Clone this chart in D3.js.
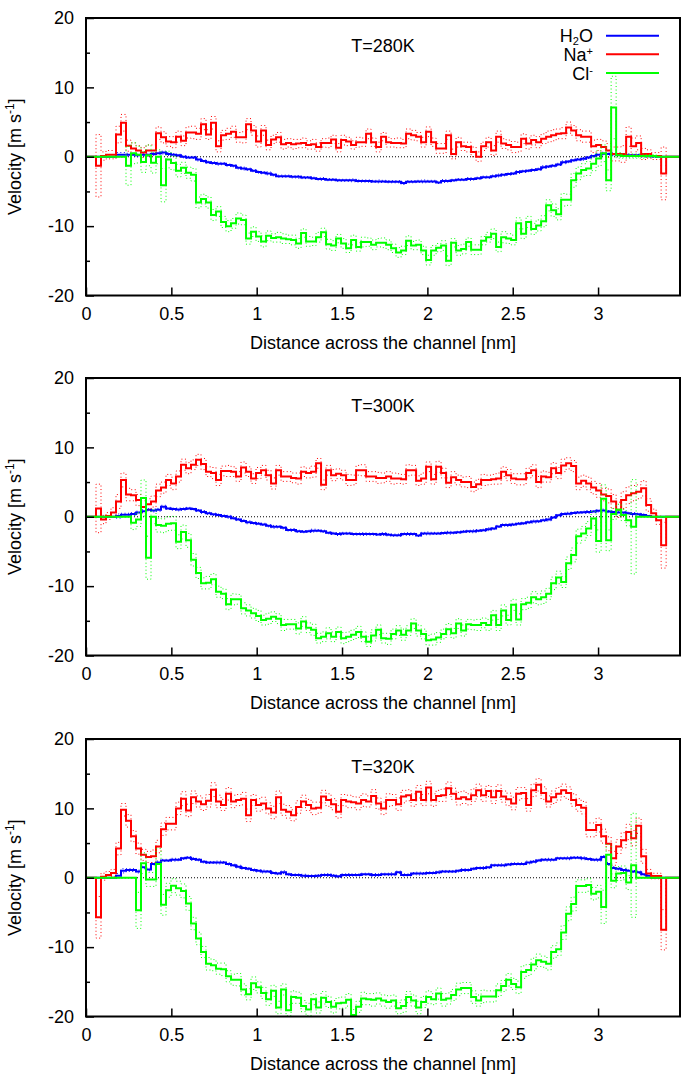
<!DOCTYPE html>
<html>
<head>
<meta charset="utf-8">
<script src="https://cdn.jsdelivr.net/npm/d3@7"></script>
<style>
  body { margin: 0; background: #fff; }
  text { font-family: "Liberation Sans", Arial, sans-serif; }
</style>
</head>
<body>
<svg id="chart" width="681" height="1074"></svg>
<script>
// bin width of the velocity profiles [nm]
const binWidth = 0.0293;
const xTicks = [0, 0.5, 1, 1.5, 2, 2.5, 3];
const yTicks = [-20, -10, 0, 10, 20];
const yMinorTicks = [-15, -5, 5, 15];
const titles = ['T=280K', 'T=300K', 'T=320K'];
const xLabel = 'Distance across the channel [nm]';

// ---- T = 280 K ----
const h2o280 = [
  0, 0, 0, 0, 0, 0, 0.3, 0.3, 0.3, 0.3,
  0.2, 0.3, 0.3, 0.4, 0.5, 0.6, 0.4, 0.3, 0.2, 0.0,
  -0.1, -0.1, -0.4, -0.6, -0.8, -0.9, -1.0, -1.0, -1.2, -1.3,
  -1.6, -1.7, -1.8, -2.0, -2.2, -2.3, -2.4, -2.6, -2.8, -2.8,
  -2.8, -2.9, -2.9, -3.0, -3.0, -3.1, -3.2, -3.2, -3.3, -3.3,
  -3.4, -3.4, -3.4, -3.4, -3.5, -3.5, -3.5, -3.55, -3.55, -3.55,
  -3.6, -3.6, -3.6, -3.8, -3.6, -3.6, -3.55, -3.55, -3.55, -3.55,
  -3.7, -3.5, -3.5, -3.4, -3.3, -3.3, -3.2, -3.2, -3.1, -2.95,
  -2.95, -2.8, -2.7, -2.6, -2.5, -2.4, -2.2, -2.1, -2.0, -1.9,
  -1.8, -1.5, -1.4, -1.3, -1.1, -0.8, -0.7, -0.5, -0.4, -0.3,
  -0.1, 0.1, 0.3, 0.45, 0.4, 0.35, 0.3, 0.2, 0.2, 0.2,
  0.2, 0.1, 0.1, 0.05, 0, 0, 0, 0, 0];
const h2o280Err = [
  0, 0, 0, 0, 0, 0, 0.3, 0.3, 0.2, 0.2,
  0.2, 0.2, 0.2, 0.2, 0.2, 0.2, 0.2, 0.15, 0.15, 0.15,
  0.15, 0.15, 0.2, 0.15, 0.15, 0.15, 0.2, 0.15, 0.15, 0.15,
  0.15, 0.2, 0.15, 0.15, 0.15, 0.15, 0.2, 0.15, 0.15, 0.15,
  0.15, 0.15, 0.2, 0.15, 0.15, 0.15, 0.15, 0.2, 0.15, 0.15,
  0.15, 0.15, 0.15, 0.2, 0.15, 0.15, 0.15, 0.15, 0.2, 0.15,
  0.15, 0.15, 0.15, 0.2, 0.15, 0.15, 0.15, 0.2, 0.15, 0.15,
  0.15, 0.2, 0.15, 0.15, 0.15, 0.15, 0.2, 0.15, 0.15, 0.15,
  0.15, 0.15, 0.2, 0.15, 0.15, 0.15, 0.2, 0.15, 0.15, 0.15,
  0.15, 0.2, 0.15, 0.15, 0.15, 0.2, 0.15, 0.15, 0.15, 0.2,
  0.15, 0.15, 0.2, 0.2, 0.15, 0.2, 0.15, 0.15, 0.2, 0.15,
  0.15, 0.15, 0.15, 0.1, 0, 0, 0, 0, 0];
const na280 = [
  0, 0, -1.3, 0.1, 0.3, 0.3, 3.2, 4.9, 1.6, 1.2,
  0.9, 0.6, 0.9, 0.9, 3.4, 2.8, 2.2, 2.1, 2.9, 2.3,
  3.5, 3.5, 3.3, 4.7, 3.2, 4.9, 1.5, 3.1, 3.3, 3.6,
  2.8, 2.8, 4.7, 3.8, 2.2, 3.8, 1.7, 2.5, 2.8, 1.8,
  2.0, 1.8, 1.9, 2.0, 1.7, 1.8, 1.4, 2.0, 2.0, 2.5,
  1.3, 2.4, 2.2, 1.7, 2.1, 2.1, 3.3, 2.1, 1.4, 2.9,
  2.1, 2.0, 2.0, 1.9, 3.3, 3.1, 2.9, 2.1, 3.6, 2.1,
  1.2, 1.2, 3.1, 0.4, 2.1, 1.5, 1.4, 0.7, 0.0, 1.5,
  2.1, 0.9, 2.9, 1.9, 1.7, 1.4, 1.4, 2.6, 1.9, 2.4,
  2.1, 2.6, 2.9, 3.1, 3.3, 3.4, 4.2, 3.8, 3.1, 2.9,
  2.9, 1.5, 1.7, 1.4, 0.9, 0.4, 0.4, 0.4, 2.9, 1.5,
  2.0, 0.4, 0.4, 0.1, 0.1, -2.4, 0, 0, 0];
const na280Err = [
  0, 0, 4.5, 0.6, 0.6, 0.6, 1.2, 1.2, 0.8, 0.8,
  0.7, 0.7, 0.8, 0.8, 0.9, 0.8, 0.7, 0.8, 0.8, 0.7,
  0.8, 0.9, 0.8, 0.8, 0.7, 0.9, 0.8, 0.7, 0.8, 0.8,
  0.7, 0.8, 0.8, 0.7, 0.8, 0.7, 0.7, 0.6, 0.7, 0.7,
  0.6, 0.7, 0.6, 0.7, 0.6, 0.7, 0.6, 0.6, 0.7, 0.6,
  0.6, 0.7, 0.6, 0.6, 0.7, 0.6, 0.7, 0.6, 0.7, 0.6,
  0.7, 0.6, 0.7, 0.6, 0.7, 0.7, 0.6, 0.7, 0.7, 0.6,
  0.7, 0.7, 0.6, 0.7, 0.7, 0.6, 0.7, 0.7, 0.7, 0.6,
  0.7, 0.7, 0.8, 0.7, 0.7, 0.8, 0.7, 0.7, 0.8, 0.7,
  0.8, 0.7, 0.8, 0.8, 0.7, 0.8, 0.8, 0.7, 0.8, 0.8,
  0.8, 0.9, 0.8, 0.9, 1.0, 1.0, 1.0, 1.2, 1.4, 1.2,
  1.0, 0.8, 0.6, 0.5, 0.5, 3.8, 0, 0, 0];
const cl280 = [
  0, 0, 0, 0, 0, 0, 0, 0, -1.3, 0.5,
  0.3, -0.75, 0.2, -0.85, 0, -4.1, -0.4, -0.9, -2.0, -1.6,
  -2.3, -2.6, -6.6, -6.1, -6.6, -8.4, -7.9, -9.4, -10.0, -9.6,
  -8.9, -9.1, -11.8, -10.8, -11.5, -12.2, -11.4, -11.7, -11.6, -11.8,
  -11.9, -12.0, -12.5, -11.0, -12.2, -12.2, -11.6, -10.9, -12.6, -12.8,
  -11.8, -12.5, -13.2, -12.0, -13.0, -12.3, -12.3, -12.7, -12.4, -12.4,
  -12.7, -13.2, -13.8, -13.5, -12.1, -12.8, -12.7, -13.5, -14.9, -13.5,
  -13.1, -12.8, -15.0, -12.4, -13.5, -13.3, -12.3, -13.4, -13.4, -12.1,
  -11.6, -11.1, -13.0, -11.6, -11.8, -12.0, -9.6, -11.1, -9.4, -10.4,
  -9.9, -9.3, -7.0, -7.7, -8.3, -6.2, -6.2, -3.4, -2.4, -1.9,
  -1.7, -1.0, -0.25, 0.5, -3.4, 7.1, 0.2, 0.1, 0.1, 0.1,
  0.1, 0.1, 0.1, 0.1, 0, 0, 0, 0, 0];
const cl280Err = [
  0, 0, 0, 0, 0, 0, 0, 0, 2.8, 1.5,
  1.2, 1.5, 1.5, 1.5, 1.0, 2.4, 1.2, 1.0, 0.9, 0.8,
  0.8, 0.9, 0.8, 0.7, 0.8, 0.8, 0.7, 0.8, 0.8, 0.7,
  0.8, 0.7, 0.8, 0.7, 0.7, 0.8, 0.7, 0.6, 0.7, 0.7,
  0.6, 0.7, 0.7, 0.6, 0.7, 0.6, 0.7, 0.6, 0.7, 0.7,
  0.6, 0.7, 0.6, 0.7, 0.6, 0.7, 0.6, 0.7, 0.6, 0.7,
  0.7, 0.6, 0.7, 0.6, 0.7, 0.6, 0.7, 0.6, 0.7, 0.7,
  0.6, 0.7, 0.7, 0.6, 0.7, 0.7, 0.6, 0.7, 0.7, 0.6,
  0.7, 0.7, 0.7, 0.8, 0.7, 0.7, 0.8, 0.7, 0.8, 0.8,
  0.8, 0.8, 0.8, 0.9, 0.8, 0.9, 0.8, 1.0, 0.9, 0.9,
  1.0, 1.0, 1.1, 1.2, 1.5, 4.5, 0.4, 0.3, 0.3, 0.3,
  0.3, 0.3, 0.2, 0.2, 0, 0, 0, 0, 0];

// ---- T = 300 K ----
const h2o300 = [
  0, 0, 0, 0, 0, 0, 0.1, 0.3, 0.3, 0.4,
  0.6, 0.8, 1.0, 0.9, 1.0, 1.45, 1.2, 1.1, 1.05, 1.1,
  1.2, 1.1, 0.9, 0.7, 0.5, 0.35, 0.25, 0.1, 0, -0.2,
  -0.4, -0.6, -0.8, -0.9, -1.0, -1.1, -1.3, -1.45, -1.45, -1.6,
  -1.9, -1.9, -2.1, -2.15, -2.1, -2.0, -2.0, -2.1, -2.3, -2.4,
  -2.5, -2.4, -2.4, -2.5, -2.5, -2.5, -2.5, -2.5, -2.55, -2.5,
  -2.6, -2.65, -2.65, -2.5, -2.5, -2.5, -2.7, -2.4, -2.4, -2.4,
  -2.4, -2.35, -2.3, -2.3, -2.25, -2.15, -2.1, -2.1, -2.0, -1.95,
  -1.8, -1.7, -1.4, -1.2, -1.2, -1.1, -1.0, -0.95, -0.8, -0.7,
  -0.65, -0.5, -0.4, -0.1, 0.2, 0.4, 0.45, 0.55, 0.6, 0.65,
  0.7, 0.75, 0.85, 0.9, 0.75, 0.7, 0.6, 0.6, 0.5, 0.4,
  0.35, 0.25, 0.1, 0, 0, 0, 0, 0, 0];
const h2o300Err = [
  0, 0, 0, 0, 0, 0, 0.3, 0.2, 0.2, 0.2,
  0.2, 0.2, 0.15, 0.2, 0.2, 0.2, 0.15, 0.15, 0.2, 0.15,
  0.15, 0.15, 0.15, 0.2, 0.15, 0.15, 0.15, 0.15, 0.2, 0.15,
  0.15, 0.15, 0.2, 0.15, 0.15, 0.15, 0.15, 0.2, 0.15, 0.15,
  0.15, 0.2, 0.15, 0.15, 0.15, 0.2, 0.15, 0.15, 0.15, 0.15,
  0.2, 0.15, 0.15, 0.15, 0.15, 0.2, 0.15, 0.15, 0.15, 0.2,
  0.15, 0.15, 0.15, 0.15, 0.2, 0.15, 0.15, 0.15, 0.2, 0.15,
  0.15, 0.15, 0.2, 0.15, 0.15, 0.15, 0.15, 0.2, 0.15, 0.15,
  0.2, 0.15, 0.15, 0.15, 0.2, 0.15, 0.15, 0.15, 0.15, 0.2,
  0.15, 0.15, 0.2, 0.15, 0.15, 0.15, 0.2, 0.15, 0.15, 0.15,
  0.2, 0.15, 0.15, 0.2, 0.15, 0.15, 0.2, 0.15, 0.15, 0.2,
  0.15, 0.15, 0.1, 0, 0, 0, 0, 0, 0];
const na300 = [
  0, 0, 1.2, -0.4, 0.1, 0.6, 2.2, 5.3, 3.2, 3.1,
  2.4, 1.4, 1.8, 2.2, 3.8, 4.2, 5.3, 4.8, 5.8, 7.5,
  7.0, 7.5, 8.2, 7.6, 6.5, 6.3, 5.3, 6.6, 6.6, 6.5,
  5.8, 7.1, 6.5, 5.5, 6.3, 6.7, 6.0, 4.8, 6.7, 5.8,
  5.8, 5.6, 5.5, 6.5, 6.3, 6.5, 7.7, 4.6, 6.7, 6.0,
  6.2, 6.0, 5.3, 5.3, 6.7, 6.7, 5.8, 5.8, 5.6, 5.6,
  5.8, 5.5, 5.5, 5.4, 6.7, 6.7, 5.2, 5.5, 7.2, 5.4,
  7.2, 6.3, 4.9, 5.7, 5.3, 5.0, 5.0, 4.3, 4.7, 5.3,
  5.3, 5.4, 5.5, 6.5, 6.0, 5.5, 5.4, 5.4, 6.3, 6.7,
  5.0, 5.8, 5.7, 7.0, 6.3, 7.4, 7.7, 7.3, 4.8, 5.2,
  4.8, 4.2, 3.8, 3.2, 3.0, 2.2, 1.0, 2.4, 3.1, 3.4,
  3.6, 4.1, 1.7, 0.5, -0.5, -4.1, 0, 0, 0];
const na300Err = [
  0, 0, 3.5, 0.6, 0.5, 0.7, 1.0, 1.0, 0.9, 0.8,
  0.8, 0.9, 0.8, 0.8, 0.9, 0.8, 0.8, 0.9, 0.8, 0.8,
  0.8, 0.7, 0.8, 0.8, 0.7, 0.8, 0.8, 0.7, 0.8, 0.7,
  0.7, 0.8, 0.7, 0.7, 0.8, 0.7, 0.7, 0.8, 0.7, 0.7,
  0.7, 0.7, 0.8, 0.7, 0.7, 0.8, 0.7, 0.7, 0.7, 0.8,
  0.7, 0.7, 0.8, 0.7, 0.7, 0.8, 0.7, 0.7, 0.8, 0.7,
  0.7, 0.8, 0.7, 0.7, 0.8, 0.7, 0.7, 0.8, 0.7, 0.7,
  0.8, 0.7, 0.7, 0.8, 0.7, 0.7, 0.8, 0.7, 0.7, 0.8,
  0.7, 0.7, 0.8, 0.7, 0.8, 0.7, 0.8, 0.8, 0.7, 0.8,
  0.8, 0.8, 0.7, 0.8, 0.8, 0.9, 0.8, 0.8, 0.9, 0.8,
  0.9, 0.9, 1.0, 0.9, 1.0, 1.0, 1.1, 1.2, 1.2, 1.1,
  1.0, 1.1, 0.9, 0.6, 0.6, 3.3, 0, 0, 0];
const cl300 = [
  0, 0, 0, 0, 0, 0, 0, 0, 0, -0.85,
  -0.4, 2.7, -5.9, 0, -1.2, -1.3, -1.0, -0.95, -3.6, -2.2,
  -3.4, -6.2, -8.1, -9.6, -9.5, -9.0, -10.8, -11.1, -12.6, -11.9,
  -11.9, -13.2, -13.5, -13.9, -14.3, -14.9, -14.7, -14.4, -14.7, -15.6,
  -15.5, -15.5, -16.1, -15.1, -16.0, -16.3, -17.5, -17.3, -16.8, -17.3,
  -16.6, -17.5, -17.3, -17.0, -16.6, -17.3, -18.0, -17.1, -16.3, -17.5,
  -17.6, -16.9, -16.4, -17.0, -16.4, -15.4, -16.4, -16.9, -17.8, -17.7,
  -17.4, -16.9, -16.2, -16.8, -15.4, -16.4, -15.5, -15.6, -15.6, -15.3,
  -15.6, -14.2, -15.6, -13.5, -14.9, -12.7, -14.8, -12.6, -12.4, -11.6,
  -11.9, -11.6, -11.1, -9.6, -8.75, -9.4, -6.7, -5.5, -2.8, -2.4,
  -1.7, -0.25, -3.5, 2.6, -3.4, 0.4, 1.0, 0.25, -0.5, -1.45,
  0, 0, 0, 0, 0, 0, 0, 0, 0];
const cl300Err = [
  0, 0, 0, 0, 0, 0, 0, 0, 0, 1.0,
  1.0, 2.6, 3.1, 1.0, 1.0, 1.0, 1.0, 1.0, 1.0, 1.0,
  1.0, 0.9, 0.8, 0.8, 0.9, 0.8, 0.8, 0.7, 0.8, 0.8,
  0.7, 0.8, 0.8, 0.7, 0.8, 0.7, 0.8, 0.7, 0.7, 0.8,
  0.7, 0.7, 0.8, 0.7, 0.7, 0.8, 0.7, 0.7, 0.8, 0.7,
  0.7, 0.8, 0.7, 0.7, 0.8, 0.7, 0.7, 0.8, 0.7, 0.7,
  0.8, 0.7, 0.7, 0.8, 0.7, 0.7, 0.8, 0.7, 0.7, 0.8,
  0.7, 0.7, 0.8, 0.7, 0.7, 0.8, 0.7, 0.7, 0.8, 0.7,
  0.8, 0.7, 0.8, 0.8, 0.7, 0.8, 0.8, 0.8, 0.8, 0.8,
  0.8, 0.9, 0.8, 0.9, 0.9, 0.8, 0.9, 1.0, 1.0, 1.0,
  1.0, 1.0, 1.6, 2.0, 1.5, 0.8, 0.8, 0.8, 0.8, 6.8,
  0, 0, 0, 0, 0, 0, 0, 0, 0];

// ---- T = 320 K ----
const h2o320 = [
  0, 0, 0, 0, 0, 0, 0.3, 1.0, 1.1, 1.1,
  0.9, 1.5, 1.2, 2.0, 2.2, 2.5, 2.5, 2.6, 2.6, 2.8,
  2.9, 2.7, 2.6, 2.3, 2.2, 2.2, 2.2, 2.2, 2.0, 1.8,
  1.6, 1.4, 1.3, 1.1, 1.0, 0.9, 0.9, 0.7, 0.6, 0.8,
  0.5, 0.4, 0.4, 0.3, 0.25, 0.25, 0.3, 0.4, 0.4, 0.3,
  0.2, 0.4, 0.4, 0.4, 0.4, 0.5, 0.5, 0.4, 0.4, 0.5,
  0.5, 0.5, 0.8, 0.4, 0.4, 0.6, 0.6, 0.6, 0.7, 0.7,
  0.8, 0.9, 0.9, 0.9, 1.0, 1.1, 1.1, 1.3, 1.4, 1.4,
  1.5, 1.8, 1.8, 1.8, 1.9, 2.0, 2.0, 2.0, 2.2, 2.3,
  2.5, 2.6, 2.6, 2.6, 2.8, 2.8, 2.8, 2.9, 2.9, 2.8,
  2.7, 2.6, 2.6, 3.0, 2.0, 1.4, 1.3, 1.1, 1.0, 0.9,
  0.8, 0.5, 0.3, 0, 0, 0, 0, 0, 0];
const h2o320Err = [
  0, 0, 0, 0, 0, 0, 0.3, 0.3, 0.2, 0.2,
  0.2, 0.2, 0.2, 0.15, 0.2, 0.15, 0.15, 0.2, 0.15, 0.15,
  0.15, 0.2, 0.15, 0.15, 0.15, 0.15, 0.2, 0.15, 0.15, 0.15,
  0.2, 0.15, 0.15, 0.15, 0.15, 0.2, 0.15, 0.15, 0.15, 0.2,
  0.15, 0.15, 0.15, 0.2, 0.15, 0.15, 0.15, 0.15, 0.2, 0.15,
  0.15, 0.15, 0.2, 0.15, 0.15, 0.15, 0.15, 0.2, 0.15, 0.15,
  0.15, 0.2, 0.15, 0.15, 0.15, 0.15, 0.2, 0.15, 0.15, 0.15,
  0.2, 0.15, 0.15, 0.15, 0.15, 0.2, 0.15, 0.15, 0.15, 0.2,
  0.15, 0.15, 0.15, 0.2, 0.15, 0.15, 0.15, 0.15, 0.2, 0.15,
  0.15, 0.15, 0.2, 0.15, 0.15, 0.15, 0.2, 0.15, 0.15, 0.2,
  0.15, 0.15, 0.2, 0.2, 0.2, 0.2, 0.15, 0.2, 0.15, 0.15,
  0.15, 0.15, 0.1, 0, 0, 0, 0, 0, 0];
const na320 = [
  0, 0, -5.7, 0.15, 0.4, 0.7, 4.2, 9.8, 8.2, 6.0,
  4.2, 3.3, 3.0, 3.1, 4.5, 7.0, 7.8, 7.8, 10.0, 11.4,
  9.7, 11.6, 11.0, 10.6, 11.1, 12.7, 11.0, 10.5, 12.1, 11.0,
  11.2, 11.4, 9.0, 11.2, 10.5, 10.7, 10.0, 9.4, 11.6, 9.8,
  9.5, 9.0, 10.2, 11.0, 10.5, 10.0, 10.1, 11.7, 11.2, 10.6,
  9.5, 11.2, 11.0, 10.9, 10.7, 11.2, 11.0, 11.8, 10.7, 10.0,
  11.2, 11.2, 10.6, 11.7, 11.9, 11.2, 12.4, 11.2, 13.0, 11.2,
  11.8, 11.9, 12.9, 12.1, 11.4, 11.6, 11.3, 11.9, 12.6, 11.9,
  12.5, 11.6, 12.5, 11.7, 11.3, 10.7, 12.1, 12.2, 10.5, 12.6,
  13.4, 12.2, 11.0, 11.6, 12.1, 12.6, 12.2, 11.2, 10.5, 10.1,
  6.9, 6.9, 7.6, 6.0, 4.9, 2.8, 4.5, 5.4, 6.6, 5.7,
  7.5, 3.1, 0.6, 0.25, 0.25, -7.5, 0, 0, 0];
const na320Err = [
  0, 0, 3.0, 0.5, 0.5, 0.5, 0.9, 0.9, 0.9, 0.8,
  0.8, 0.8, 0.8, 0.9, 0.9, 0.9, 0.9, 0.9, 0.9, 1.0,
  0.9, 0.9, 0.8, 0.9, 0.9, 1.0, 0.9, 0.8, 0.9, 0.9,
  0.8, 0.9, 0.9, 0.8, 0.9, 0.9, 0.8, 0.9, 0.9, 0.8,
  0.9, 0.8, 0.9, 0.9, 0.8, 0.9, 0.8, 0.9, 0.9, 0.8,
  0.9, 0.8, 0.9, 0.8, 0.9, 0.9, 0.8, 0.9, 0.8, 0.9,
  0.9, 0.8, 0.9, 0.9, 0.8, 0.9, 0.9, 0.8, 0.9, 0.9,
  0.8, 0.9, 0.9, 0.8, 0.9, 0.9, 0.8, 0.9, 0.9, 0.9,
  0.8, 0.9, 0.9, 0.8, 0.9, 0.9, 0.9, 0.8, 0.9, 0.9,
  0.9, 0.9, 0.8, 0.9, 0.9, 0.9, 0.9, 0.9, 0.9, 0.9,
  1.0, 1.0, 1.0, 1.0, 1.0, 1.0, 1.0, 1.1, 1.1, 1.1,
  1.1, 1.0, 0.6, 0.4, 0.4, 2.9, 0, 0, 0];
const cl320 = [
  0, 0, 0, 0, 0, 0, 0, 0, 0, 0,
  -4.7, 2.1, -0.25, -0.25, 2.0, -3.9, -1.8, -1.15, -1.5, -1.9,
  -3.7, -6.6, -8.75, -10.7, -12.4, -12.6, -13.1, -13.2, -14.2, -14.7,
  -14.7, -16.1, -16.8, -15.2, -15.8, -16.6, -17.5, -16.3, -18.7, -16.1,
  -19.1, -17.2, -17.3, -18.5, -19.0, -17.5, -18.7, -17.3, -17.9, -18.6,
  -18.1, -18.0, -17.6, -19.8, -18.6, -17.4, -17.5, -17.6, -17.4, -17.7,
  -17.9, -17.7, -18.8, -18.5, -17.2, -17.7, -18.7, -17.9, -17.2, -17.5,
  -16.7, -17.6, -17.4, -16.9, -16.1, -15.9, -15.9, -17.2, -17.7, -17.1,
  -17.1, -17.1, -16.2, -15.6, -14.7, -15.3, -15.8, -13.6, -13.3, -12.5,
  -11.9, -12.1, -12.4, -10.7, -10.3, -7.9, -5.2, -3.8, -1.2, -1.2,
  -1.05, -2.3, -2.0, -4.2, 3.3, -0.45, 0.6, 0.7, -0.7, 1.8,
  0, 0, 0, 0, 0, 0, 0, 0, 0];
const cl320Err = [
  0, 0, 0, 0, 0, 0, 0, 0, 0, 0,
  2.6, 1.5, 1.0, 1.0, 2.2, 1.5, 1.0, 1.0, 1.0, 1.0,
  1.0, 0.9, 0.9, 0.8, 0.9, 0.8, 0.8, 0.9, 0.8, 0.8,
  0.9, 0.8, 0.8, 0.9, 0.8, 0.8, 0.9, 0.8, 0.9, 0.8,
  0.8, 0.9, 0.8, 0.8, 0.9, 0.8, 0.8, 0.9, 0.8, 0.9,
  0.8, 0.8, 0.9, 0.8, 0.8, 0.9, 0.8, 0.9, 0.8, 0.8,
  0.9, 0.8, 0.8, 0.9, 0.8, 0.8, 0.9, 0.8, 0.9, 0.8,
  0.8, 0.9, 0.8, 0.8, 0.9, 0.8, 0.8, 0.9, 0.8, 0.9,
  0.8, 0.8, 0.9, 0.8, 0.9, 0.8, 0.9, 0.9, 0.8, 0.9,
  0.9, 0.8, 0.9, 0.9, 0.9, 1.0, 1.0, 1.0, 0.9, 0.9,
  0.9, 0.9, 0.9, 2.4, 1.5, 1.0, 1.0, 1.0, 1.0, 7.5,
  0, 0, 0, 0, 0, 0, 0, 0, 0];

const colors = { h2o: '#0000ff', na: '#ff0000', cl: '#00ff00' };

const panels = [
  { title: titles[0], series: [
    { key: 'h2o', vals: h2o280, err: h2o280Err },
    { key: 'na', vals: na280, err: na280Err },
    { key: 'cl', vals: cl280, err: cl280Err }] },
  { title: titles[1], series: [
    { key: 'h2o', vals: h2o300, err: h2o300Err },
    { key: 'na', vals: na300, err: na300Err },
    { key: 'cl', vals: cl300, err: cl300Err }] },
  { title: titles[2], series: [
    { key: 'h2o', vals: h2o320, err: h2o320Err },
    { key: 'na', vals: na320, err: na320Err },
    { key: 'cl', vals: cl320, err: cl320Err }] }
];

const marginLeft = 86;
const plotW = 594;
const plotH = 277.5;
const panelTops = [18, 378, 739];

const svg = d3.select('#chart');

const x = d3.scaleLinear().domain([0, 3.48]).range([0, plotW]);
const y = d3.scaleLinear().domain([-20, 20]).range([plotH, 0]);

// histogram steps: each bin drawn flat over its width
const stepLine = d3.line()
  .x(d => x(d[0]))
  .y(d => y(d[1]))
  .curve(d3.curveStepAfter);

const steps = vals => {
  const pts = vals.map((v, i) => [i * binWidth, v]);
  pts.push([vals.length * binWidth, vals[vals.length - 1]]);
  return pts;
};

const styleAxis = sel => {
  sel.select('.domain').remove();
  sel.attr('font-size', 18).attr('font-family', '"Liberation Sans", Arial, sans-serif');
  sel.selectAll('line').attr('stroke', '#000').attr('stroke-width', 1.5);
  sel.selectAll('text').attr('fill', '#000');
};

panels.forEach((p, k) => {
  const top = panelTops[k];
  const g = svg.append('g').attr('transform', `translate(${marginLeft},${top})`);

  g.append('clipPath').attr('id', 'clip' + k)
    .append('rect').attr('width', plotW).attr('height', plotH);

  const plot = g.append('g').attr('clip-path', `url(#clip${k})`);

  // zero reference
  plot.append('line')
    .attr('x1', 0).attr('x2', plotW)
    .attr('y1', y(0)).attr('y2', y(0))
    .attr('stroke', '#000').attr('stroke-width', 1)
    .attr('stroke-dasharray', '1,2');

  p.series.forEach(s => {
    const upper = s.vals.map((v, i) => v + s.err[i]);
    const lower = s.vals.map((v, i) => v - s.err[i]);
    [upper, lower].forEach(band => {
      plot.append('path')
        .attr('d', stepLine(steps(band)))
        .attr('fill', 'none')
        .attr('stroke', colors[s.key])
        .attr('stroke-width', 1)
        .attr('stroke-dasharray', '1,2.5');
    });
    plot.append('path')
      .attr('d', stepLine(steps(s.vals)))
      .attr('fill', 'none')
      .attr('stroke', colors[s.key])
      .attr('stroke-width', 2);
  });

  // axes, ticks pointing inward
  g.append('g')
    .call(d3.axisLeft(y).tickValues(yTicks).tickSize(-8).tickPadding(12).tickFormat(d => String(d)))
    .call(styleAxis);
  g.append('g')
    .call(d3.axisLeft(y).tickValues(yMinorTicks).tickSize(-4).tickFormat(''))
    .call(styleAxis);
  g.append('g')
    .attr('transform', `translate(0,${plotH})`)
    .call(d3.axisBottom(x).tickValues(xTicks).tickSize(-8).tickPadding(12).tickFormat(d => String(d)))
    .call(styleAxis);

  g.append('rect')
    .attr('width', plotW).attr('height', plotH)
    .attr('fill', 'none').attr('stroke', '#000').attr('stroke-width', 2);

  g.append('text')
    .attr('x', plotW / 2).attr('y', 34)
    .attr('text-anchor', 'middle').attr('font-size', 18)
    .text(p.title);

  g.append('text')
    .attr('x', plotW / 2).attr('y', plotH + 53)
    .attr('text-anchor', 'middle').attr('font-size', 18)
    .text(xLabel);

  const yl = svg.append('text')
    .attr('transform', `translate(21,${top + plotH / 2}) rotate(-90)`)
    .attr('text-anchor', 'middle').attr('font-size', 18);
  yl.append('tspan').text('Velocity [m s');
  yl.append('tspan').attr('dy', -7).attr('font-size', 12).text('-1');
  yl.append('tspan').attr('dy', 7).text(']');

  if (k === 0) {
    const legendY = [17.7, 36.3, 55];
    const leg = g.append('g');
    p.series.forEach((s, i) => {
      leg.append('line')
        .attr('x1', 520).attr('x2', 573)
        .attr('y1', legendY[i]).attr('y2', legendY[i])
        .attr('stroke', colors[s.key]).attr('stroke-width', 2);
    });
    const t1 = leg.append('text').attr('x', 507).attr('y', legendY[0] + 6)
      .attr('text-anchor', 'end').attr('font-size', 18);
    t1.append('tspan').text('H');
    t1.append('tspan').attr('dy', 3).attr('font-size', 11).text('2');
    t1.append('tspan').attr('dy', -3).text('O');
    const t2 = leg.append('text').attr('x', 507).attr('y', legendY[1] + 6.5)
      .attr('text-anchor', 'end').attr('font-size', 18);
    t2.append('tspan').text('Na');
    t2.append('tspan').attr('dy', -6).attr('font-size', 11).text('+');
    const t3 = leg.append('text').attr('x', 507).attr('y', legendY[2] + 6.5)
      .attr('text-anchor', 'end').attr('font-size', 18);
    t3.append('tspan').text('Cl');
    t3.append('tspan').attr('dy', -6).attr('font-size', 11).text('-');
  }
});
</script>
</body>
</html>
